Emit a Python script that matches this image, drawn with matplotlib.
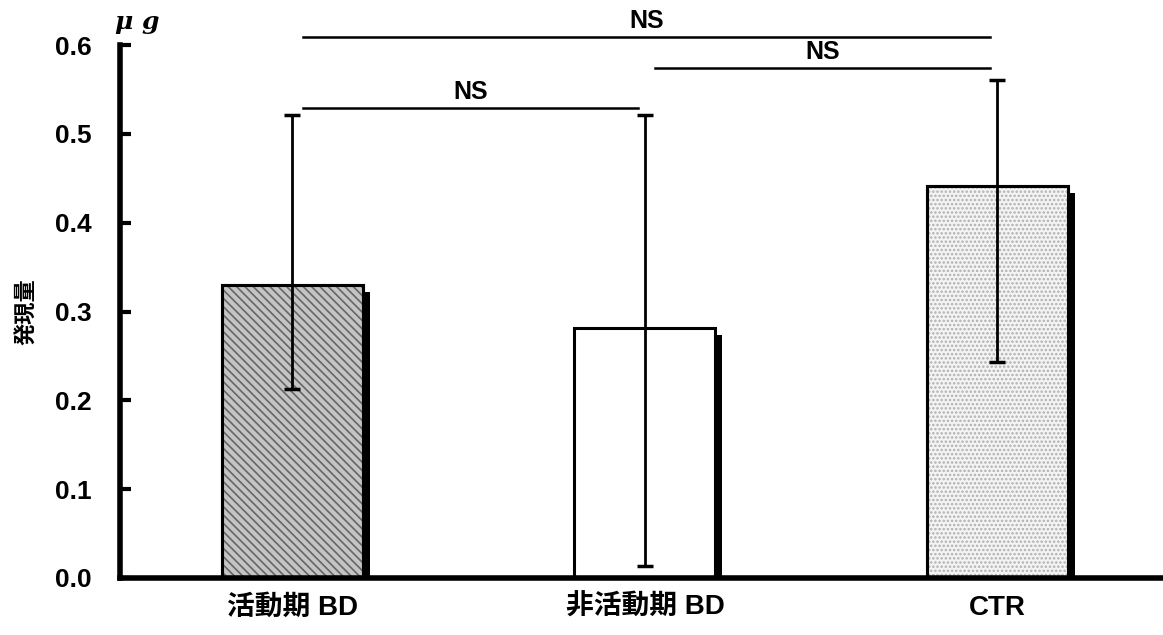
import matplotlib
matplotlib.use("Agg")
import matplotlib.pyplot as plt
import numpy as np

plt.rcParams['font.family'] = ['Liberation Sans', 'Noto Sans CJK JP', 'DejaVu Sans']
plt.rcParams['font.weight'] = 'bold'
plt.rcParams['hatch.linewidth'] = 1.2

# data
groups = ["活動期 BD", "非活動期 BD", "CTR"]
means = [0.33, 0.282, 0.441]
err_low = [0.213, 0.013, 0.243]
err_high = [0.521, 0.521, 0.561]
# significance brackets: (left group, right group, y, label)
sig_left = [0, 1, 0]
sig_right = [2, 2, 1]
sig_y = [0.609, 0.574, 0.529]
sig_text = ["NS", "NS", "NS"]

x = np.arange(len(groups))
width = 0.4
faces = ['#c4c4c4', 'white', '#f4f4f4']
hatches = ['\\\\\\\\', None, '....']
hatch_cols = ['#666666', None, '#b0b0b0']

fig = plt.figure(figsize=(11.63, 6.35), dpi=100)
ax = fig.add_axes([0.103, 0.0898, 0.897, 0.8392])

# drop shadow bars
ax.bar(x + 0.02, np.array(means) - 0.008, width, color='black', zorder=1)
for i in range(len(x)):
    ax.bar(x[i], means[i], width, color=faces[i], edgecolor='black',
           linewidth=2.2, zorder=2)
    if hatches[i]:
        ax.bar(x[i], means[i], width, color='none', edgecolor=hatch_cols[i],
               hatch=hatches[i], linewidth=0, zorder=2.5)
        ax.bar(x[i], means[i], width, color='none', edgecolor='black',
               linewidth=2.2, zorder=2.6)

lo = np.array(means) - np.array(err_low)
hi = np.array(err_high) - np.array(means)
ax.errorbar(x, means, yerr=[lo, hi], fmt='none', ecolor='black',
            elinewidth=2, capsize=6, capthick=2.5, zorder=3)

for l, r, y, t in zip(sig_left, sig_right, sig_y, sig_text):
    x0 = l + 0.03
    x1 = r - 0.02
    ax.plot([x0, x1], [y, y], color='black', lw=1.8, clip_on=False, zorder=4)
    ax.text((x0 + x1) / 2, y + 0.005, t, ha='center', va='bottom',
            fontsize=18, fontweight='bold')

ax.set_xlim(-0.49, 2.47)
ax.set_ylim(0, 0.6)
ax.set_yticks(np.arange(0, 0.61, 0.1))
ax.set_yticklabels(["%.1f" % v for v in np.arange(0, 0.61, 0.1)], fontsize=19)
ax.set_xticks(x)
ax.set_xticklabels(groups, fontsize=20)
ax.tick_params(axis='y', direction='in', length=8, width=3, pad=20)
ax.tick_params(axis='x', length=0, pad=12)
for s in ['top', 'right']:
    ax.spines[s].set_visible(False)
ax.spines['left'].set_linewidth(4)
ax.spines['bottom'].set_linewidth(4)

ax.set_ylabel("発現量", fontsize=16, fontweight='bold', labelpad=12)
ax.text(-0.505, 0.612, "μ g", fontsize=18, style='italic', fontweight='bold',
        family='DejaVu Serif', ha='left', va='bottom', clip_on=False)

fig.savefig("out.png", dpi=100)
